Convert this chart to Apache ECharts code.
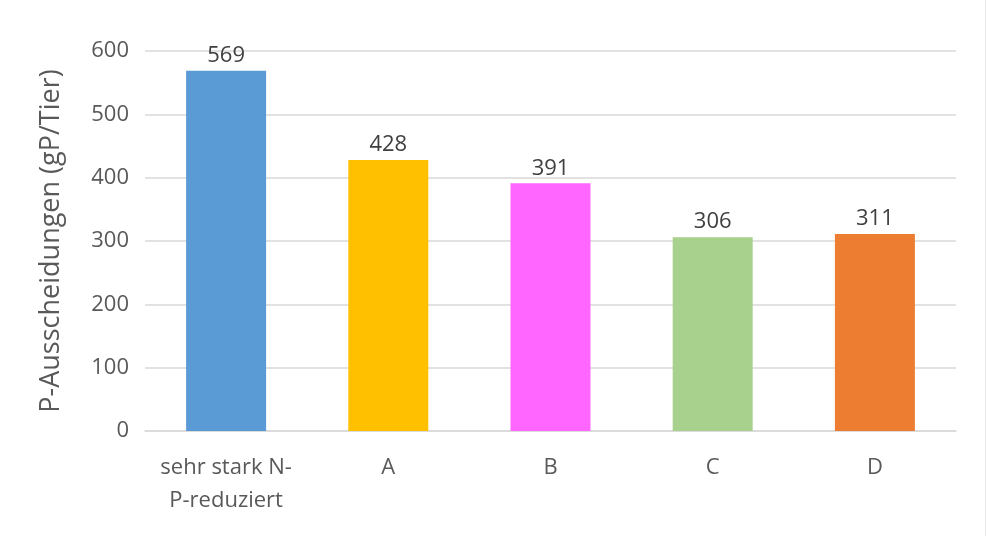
<!DOCTYPE html>
<html>
<head>
<meta charset="utf-8">
<script src="https://cdn.jsdelivr.net/npm/echarts@6/dist/echarts.min.js"></script>
<style>
html,body{margin:0;padding:0;background:#fff;}
#c{width:987px;height:536px;}
</style>
</head>
<body>
<div id="c"></div>
<script>
const categories = ['sehr stark N-\nP-reduziert', 'A', 'B', 'C', 'D'];
const values = [569, 428, 391, 306, 311];
const barColors = ['#5B9BD5', '#FFC000', '#FF66FF', '#A9D18E', '#ED7D31'];
const yTicks = { min: 0, max: 600, interval: 100 };
const yName = 'P-Ausscheidungen (gP/Tier)';

const font = '"Open Sans", Lato, sans-serif';
const chart = echarts.init(document.getElementById('c'));
chart.setOption({
  animation: false,
  backgroundColor: '#fff',
  grid: { left: 145, right: 31, top: 51, bottom: 105 },
  xAxis: {
    type: 'category',
    data: categories,
    axisLine: { lineStyle: { color: '#d9d9d9', width: 1.5 } },
    axisTick: { show: false },
    axisLabel: { interval: 0, color: '#595959', fontSize: 22, fontFamily: font, margin: 20, lineHeight: 33 }
  },
  yAxis: {
    type: 'value',
    min: yTicks.min, max: yTicks.max, interval: yTicks.interval,
    name: yName,
    nameLocation: 'middle',
    nameGap: 80,
    nameTextStyle: { color: '#595959', fontSize: 27, fontFamily: font },
    axisLine: { show: false },
    axisTick: { show: false },
    axisLabel: { color: '#595959', fontSize: 22, fontFamily: font, margin: 16 },
    splitLine: { lineStyle: { color: '#d9d9d9', width: 1.5 } }
  },
  series: [{
    type: 'bar',
    barWidth: 80,
    data: values.map((v, i) => ({ value: v, itemStyle: { color: barColors[i] } })),
    label: { show: true, position: 'top', distance: 4, color: '#404040', fontSize: 22, fontFamily: font }
  }],
  graphic: [{
    type: 'line',
    shape: { x1: 985.5, y1: 0, x2: 985.5, y2: 536 },
    style: { stroke: '#e6e6e6', lineWidth: 1 }
  }]
});
</script>
</body>
</html>
